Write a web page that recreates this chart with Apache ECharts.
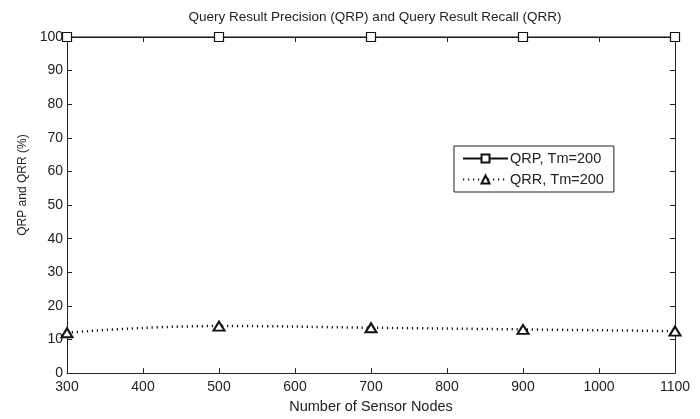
<!DOCTYPE html>
<html>
<head>
<meta charset="utf-8">
<script src="https://cdn.jsdelivr.net/npm/echarts@6/dist/echarts.min.js"></script>
<style>
  html, body { margin: 0; padding: 0; background: #fff; }
  #chart { width: 700px; height: 419px; }
</style>
</head>
<body>
<div id="chart"></div>
<script>
// Number of sensor nodes on the x axis
const nodes = [300, 500, 700, 900, 1100];
// Query result precision (%)
const qrp = [100, 100, 100, 100, 100];
// Query result recall (%)
const qrr = [12, 14, 13.5, 13, 12.5];

const seriesNames = ['QRP, Tm=200', 'QRR, Tm=200'];
const font = 'Liberation Sans, Arial, sans-serif';
const axisColor = '#222';
const textColor = '#222';

const pairs = (xs, ys) => xs.map((x, i) => [x, ys[i]]);

const chart = echarts.init(document.getElementById('chart'));

const xBase = {
  type: 'value', min: 300, max: 1100, interval: 100,
  axisLine: { show: true, onZero: false, lineStyle: { color: axisColor, width: 1 } },
  axisTick: { show: true, inside: true, length: 5, lineStyle: { color: axisColor } },
  splitLine: { show: false }
};
const yBase = {
  type: 'value', min: 0, max: 100, interval: 10,
  axisLine: { show: true, onZero: false, lineStyle: { color: axisColor, width: 1 } },
  axisTick: { show: true, inside: true, length: 5, lineStyle: { color: axisColor } },
  splitLine: { show: false }
};

chart.setOption({
  backgroundColor: '#fff',
  animation: false,
  textStyle: { fontFamily: font },
  title: {
    text: 'Query Result Precision (QRP) and Query Result Recall (QRR)',
    left: 370, top: 5, textAlign: 'center',
    textStyle: { fontFamily: font, fontSize: 13.5, fontWeight: 'normal', color: textColor }
  },
  grid: { left: 67, right: 25, top: 37, bottom: 42 },
  legend: {
    orient: 'vertical',
    left: 454, top: 146,
    padding: [5, 10, 5, 8],
    borderColor: '#222', borderWidth: 1,
    borderRadius: 0,
    backgroundColor: '#fff',
    itemWidth: 45, itemHeight: 10, itemGap: 6,
    textStyle: { fontFamily: font, fontSize: 14.5, color: textColor, padding: [0, 0, 0, -3] },
    data: seriesNames
  },
  xAxis: [
    Object.assign({}, xBase, {
      position: 'bottom',
      name: 'Number of Sensor Nodes', nameLocation: 'middle', nameGap: 24,
      nameTextStyle: { fontFamily: font, fontSize: 14.5, color: textColor },
      axisLabel: { color: textColor, fontSize: 14, margin: 7, fontFamily: font,
                   formatter: v => String(v) }
    }),
    Object.assign({}, xBase, { position: 'top', axisLabel: { show: false } })
  ],
  yAxis: [
    Object.assign({}, yBase, {
      position: 'left',
      name: 'QRP and QRR (%)', nameLocation: 'middle', nameGap: 38,
      nameTextStyle: { fontFamily: font, fontSize: 12, color: textColor, padding: [0, 0, 0, 40] },
      axisLabel: { color: textColor, fontSize: 14, margin: 4, fontFamily: font }
    }),
    Object.assign({}, yBase, { position: 'right', axisLabel: { show: false } })
  ],
  series: [
    {
      name: seriesNames[0], type: 'line',
      data: pairs(nodes, qrp),
      symbol: 'rect', symbolSize: 9,
      showAllSymbol: true,
      lineStyle: { color: '#111', width: 1 },
      itemStyle: { color: '#fff', borderColor: '#111', borderWidth: 1.2 },
      clip: false, z: 5
    },
    {
      name: seriesNames[1], type: 'line',
      data: pairs(nodes, qrr),
      smooth: 0.5,
      symbol: 'triangle', symbolSize: [11, 9],
      showAllSymbol: true,
      lineStyle: { color: '#111', width: 2.5, type: [1.2, 3.8] },
      itemStyle: { color: '#fff', borderColor: '#111', borderWidth: 2 },
      clip: false, z: 5
    }
  ]
});
</script>
</body>
</html>
